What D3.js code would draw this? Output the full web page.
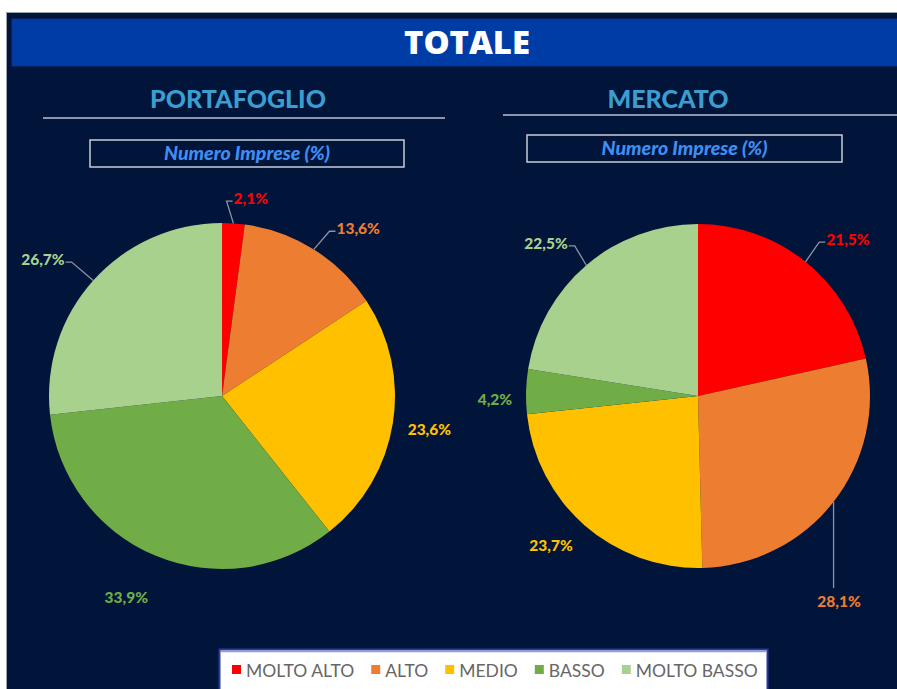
<!DOCTYPE html>
<html><head><meta charset="utf-8">
<script src="https://cdn.jsdelivr.net/npm/d3@7/dist/d3.min.js"></script>
<style>
html,body{margin:0;padding:0;background:#fff;}
svg{display:block;font-family:Lato,"Open Sans",sans-serif;}
</style></head>
<body>
<svg id="c" width="897" height="689"></svg>
<script>
// ---- data ----
const categories = ["MOLTO ALTO", "ALTO", "MEDIO", "BASSO", "MOLTO BASSO"];
const portafoglioValues = [2.1, 13.6, 23.6, 33.9, 26.7];
const mercatoValues = [21.5, 28.1, 23.7, 4.2, 22.5];
const chartTitles = ["PORTAFOGLIO", "MERCATO"];
const mainTitle = "TOTALE";
const subTitle = "Numero Imprese (%)";

// ---- styles ----
const colors = ["#FF0000", "#ED7D31", "#FFC000", "#70AD47", "#A9D18E"];
const bg = "#01143a";

const svg = d3.select("#c");
const fmt = v => d3.format(".1f")(v).replace(".", ",") + "%";

// panel
svg.append("rect").attr("x", 6.5).attr("y", 12.5).attr("width", 900).attr("height", 690)
  .attr("fill", bg).attr("stroke", "#9aa0aa").attr("stroke-width", 1);
svg.append("rect").attr("x", 12).attr("y", 19).attr("width", 890).attr("height", 47)
  .attr("fill", "#003ca6").attr("stroke", "#10308a").attr("stroke-width", 1);
svg.append("text").attr("x", 467).attr("y", 54).attr("text-anchor", "middle")
  .attr("fill", "#fff").attr("font-size", 32).attr("font-weight", 900)
  .attr("font-family", "'Open Sans',Lato,sans-serif").attr("textLength", 126).attr("lengthAdjust", "spacingAndGlyphs")
  .text(mainTitle);

const layouts = [
  {cx: 222, cy: 396, r: 173, titleX: 238, titleY: 108, lineX1: 43, lineX2: 445, lineY: 118,
   box: [90, 140, 314, 27],
   labelR: [1.156, 1.249, 1.214, 1.289, 1.303], labelDA: [4.5, 7, 0, 2.7, -4.5], leader: [1, 1, 0, 0, 1]},
  {cx: 698, cy: 396, r: 172, titleX: 668, titleY: 108, lineX1: 503, lineX2: 900, lineY: 115,
   box: [527, 135, 315, 27],
   labelR: [1.262, 1.447, 1.217, 1.181, 1.254], labelDA: [5, 17.5, 3.4, -2.5, -4.3], leader: [1, 1, 0, 0, 1]}
];
const seriesList = [portafoglioValues, mercatoValues];

const pie = d3.pie().sort(null).value(d => d);

seriesList.forEach((vals, si) => {
  const L = layouts[si];
  const g = svg.append("g");
  g.append("text").attr("x", L.titleX).attr("y", L.titleY).attr("text-anchor", "middle")
    .attr("fill", "#3b9dd0").attr("font-size", 25).attr("font-weight", 900).text(chartTitles[si]);
  g.append("line").attr("x1", L.lineX1).attr("x2", L.lineX2).attr("y1", L.lineY).attr("y2", L.lineY)
    .attr("stroke", "#8f93b0").attr("stroke-width", 2);
  g.append("rect").attr("x", L.box[0]).attr("y", L.box[1]).attr("width", L.box[2]).attr("height", L.box[3])
    .attr("fill", "none").attr("stroke", "#c9cbd6").attr("stroke-width", 1.5);
  g.append("text").attr("x", L.box[0] + L.box[2] / 2).attr("y", L.box[1] + L.box[3] / 2 + 6.5)
    .attr("text-anchor", "middle").attr("fill", "#3f8ef2").attr("font-size", 19.5)
    .attr("font-weight", 900).attr("font-style", "italic").text(subTitle);

  const arcs = pie(vals);
  const arc = d3.arc().innerRadius(0).outerRadius(L.r);
  const pg = g.append("g").attr("transform", `translate(${L.cx},${L.cy})`);
  pg.selectAll("path").data(arcs).join("path")
    .attr("d", arc).attr("fill", (d, i) => colors[i]);

  arcs.forEach((d, i) => {
    const mid = (d.startAngle + d.endAngle) / 2;
    const la = mid + L.labelDA[i] * Math.PI / 180;
    const lr = L.r * L.labelR[i];
    const lx = Math.sin(la) * lr, ly = -Math.cos(la) * lr;
    const t = pg.append("text").attr("x", lx).attr("y", ly).attr("dy", "0.36em")
      .attr("text-anchor", "middle").attr("fill", colors[i]).attr("font-size", 15.5)
      .attr("font-weight", 900).text(fmt(d.value));
    if (L.leader[i]) {
      const w = t.node().getComputedTextLength();
      const sx = Math.sin(mid) * L.r, sy = -Math.cos(mid) * L.r;
      let pts;
      if (Math.abs(lx - sx) < w / 2 && ly > sy) {
        pts = [[sx, sy], [sx, ly - 13]];
      } else if (lx > sx) {
        const ex = lx - w / 2 - 1, ey = ly + 3;
        pts = [[sx, sy], [ex - 6, ey], [ex, ey]];
      } else {
        const ex = lx + w / 2 + 1, ey = ly + 3;
        pts = [[sx, sy], [ex + 6, ey], [ex, ey]];
      }
      pg.append("path").attr("d", d3.line()(pts)).attr("fill", "none")
        .attr("stroke", "#8a96a6").attr("stroke-width", 1.3);
    }
  });
});

// legend
const lg = svg.append("g");
lg.append("rect").attr("x", 219.5).attr("y", 649.5).attr("width", 548).attr("height", 60)
  .attr("fill", "#fff").attr("stroke", "#2a3aa0").attr("stroke-width", 2);
lg.append("line").attr("x1", 221).attr("x2", 767).attr("y1", 651.5).attr("y2", 651.5)
  .attr("stroke", "#8ea0d8").attr("stroke-width", 1.5);
let lx = 232;
categories.forEach((c, i) => {
  lg.append("rect").attr("x", lx).attr("y", 665).attr("width", 9).attr("height", 9).attr("fill", colors[i]);
  const t = lg.append("text").attr("x", lx + 14).attr("y", 676.5).attr("fill", "#666666")
    .attr("font-size", 17.5).text(c);
  lx += 14 + t.node().getComputedTextLength() + 17;
});
</script>
</body></html>
